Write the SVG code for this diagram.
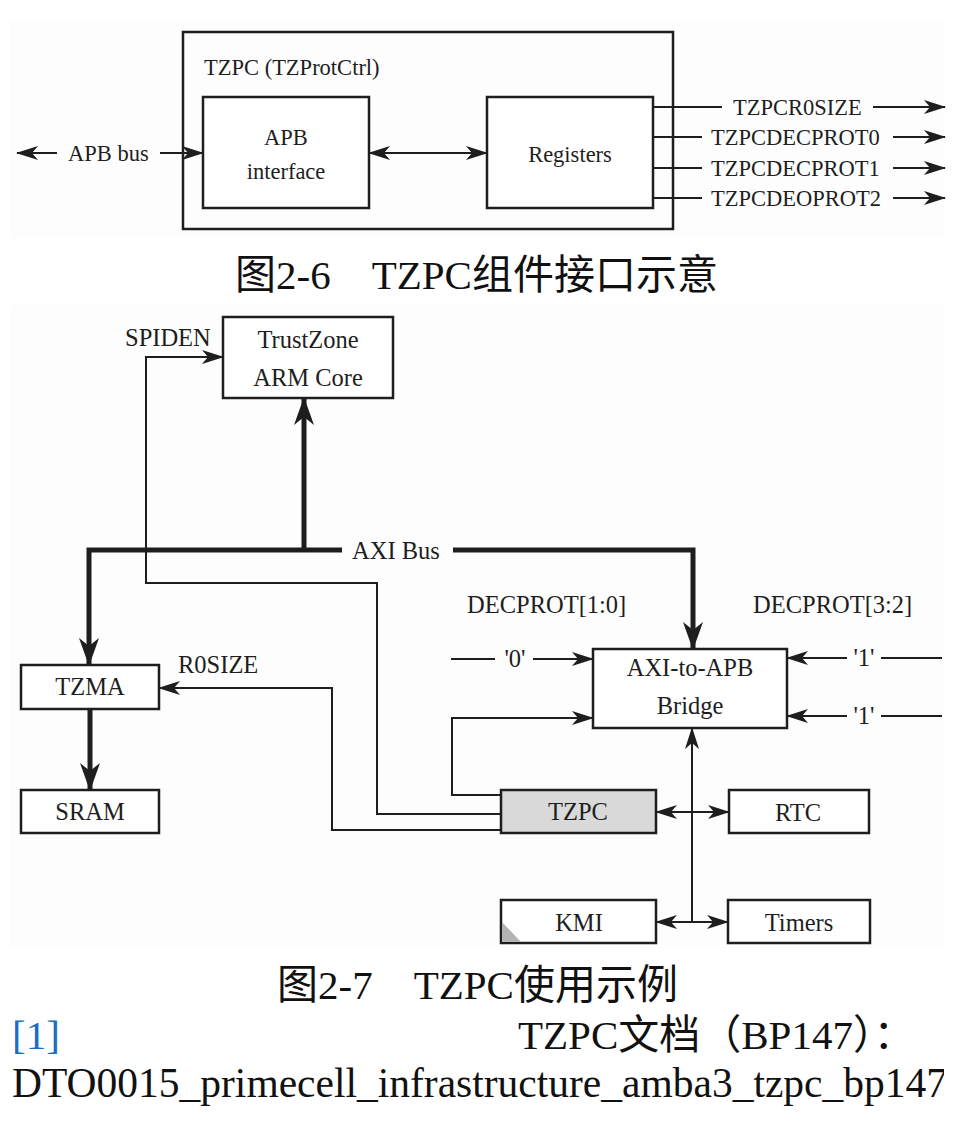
<svg xmlns="http://www.w3.org/2000/svg" width="974" height="1123" viewBox="0 0 974 1123">
<style>
.t{font-family:"Liberation Serif","Times New Roman",serif;fill:#1e1e1e}
.a{font-size:22.5px}
.b{font-size:24.5px}
.m{text-anchor:middle}
.cap{font-family:"Liberation Serif","Noto Sans CJK SC",serif;font-size:41px;fill:#111}
.box{fill:#fff;stroke:#1e1e1e;stroke-width:2.5}
.ln{fill:none;stroke:#1e1e1e;stroke-width:2}
.thk{fill:none;stroke:#1e1e1e;stroke-width:5}
.ar{marker-end:url(#ah)}
.ar2{marker-start:url(#ah);marker-end:url(#ah)}
.tk{marker-end:url(#th)}
</style>
<defs>
<marker id="ah" markerUnits="userSpaceOnUse" markerWidth="22" markerHeight="14" viewBox="0 0 22 14" refX="21" refY="7" orient="auto-start-reverse">
<path d="M22,7 L0,0 L6,7 L0,14 Z" fill="#1e1e1e"/>
</marker>
<marker id="th" markerUnits="userSpaceOnUse" markerWidth="28" markerHeight="20" viewBox="0 0 28 20" refX="27" refY="10" orient="auto">
<path d="M28,10 L0,0 L8,10 L0,20 Z" fill="#1e1e1e"/>
</marker>
<clipPath id="clipR"><rect x="0" y="0" width="944" height="1123"/></clipPath>
</defs>
<rect width="974" height="1123" fill="#fff"/>
<rect x="10" y="20" width="934" height="218" fill="#fdfdfd"/>
<rect x="10" y="305" width="934" height="643" fill="#fdfdfd"/>

<!-- Figure 2-6 -->
<g id="tzpc-outer">
<rect class="box" x="183" y="32" width="490" height="197" style="fill:none"/>
<text class="t a" x="204" y="75">TZPC (TZProtCtrl)</text>
</g>
<g id="apb-interface">
<rect class="box" x="203" y="97" width="166" height="111"/>
<text class="t a m" x="286" y="145">APB</text>
<text class="t a m" x="286" y="179">interface</text>
</g>
<g id="registers">
<rect class="box" x="487" y="97" width="166" height="111"/>
<text class="t a m" x="570" y="162">Registers</text>
</g>
<g id="top-connectors">
<line class="ln ar" x1="57" y1="153" x2="17" y2="153"/>
<text class="t a" x="68" y="161">APB bus</text>
<line class="ln ar" x1="160" y1="153" x2="203" y2="153"/>
<line class="ln ar2" x1="369" y1="153" x2="487" y2="153"/>
<line class="ln" x1="653" y1="107" x2="722" y2="107"/>
<text class="t a" x="733" y="115">TZPCR0SIZE</text>
<line class="ln ar" x1="873" y1="107" x2="945" y2="107"/>
<line class="ln" x1="653" y1="137" x2="702" y2="137"/>
<text class="t a" x="711" y="145">TZPCDECPROT0</text>
<line class="ln ar" x1="893" y1="137" x2="945" y2="137"/>
<line class="ln" x1="653" y1="168" x2="702" y2="168"/>
<text class="t a" x="711" y="176">TZPCDECPROT1</text>
<line class="ln ar" x1="893" y1="168" x2="945" y2="168"/>
<line class="ln" x1="653" y1="198" x2="702" y2="198"/>
<text class="t a" x="711" y="206">TZPCDEOPROT2</text>
<line class="ln ar" x1="893" y1="198" x2="945" y2="198"/>
</g>
<text class="cap" x="235" y="289">图2-6　TZPC组件接口示意</text>

<!-- Figure 2-7 -->
<g id="connectors">
<path class="thk tk" d="M342,550 H89 V665"/>
<path class="thk tk" d="M453,550 H693 V649"/>
<path class="thk tk" d="M304,550 V398"/>
<path class="thk tk" d="M90,709 V790"/>
<path class="ln ar" d="M502,814 H377 V583 H146 V357 H223"/>
<path class="ln ar" d="M502,830 H332 V688 H159"/>
<path class="ln ar" d="M502,795 H452 V718 H593"/>
<line class="ln" x1="451" y1="659" x2="495" y2="659"/>
<line class="ln ar" x1="533" y1="659" x2="593" y2="659"/>
<line class="ln" x1="942" y1="658" x2="881" y2="658"/>
<line class="ln ar" x1="847" y1="658" x2="787" y2="658"/>
<line class="ln" x1="942" y1="716" x2="881" y2="716"/>
<line class="ln ar" x1="847" y1="716" x2="787" y2="716"/>
<path class="ln ar" d="M692,922 V728"/>
<line class="ln ar2" x1="656" y1="812" x2="729" y2="812"/>
<line class="ln ar2" x1="656" y1="922" x2="728" y2="922"/>
<text class="t b" x="125" y="346">SPIDEN</text>
<text class="t b" x="352" y="559">AXI Bus</text>
<text class="t b" x="467" y="613">DECPROT[1:0]</text>
<text class="t b" x="753" y="613">DECPROT[3:2]</text>
<text class="t b m" x="515" y="667">'0'</text>
<text class="t b m" x="864" y="666">'1'</text>
<text class="t b m" x="864" y="724">'1'</text>
<text class="t b" x="178" y="673">R0SIZE</text>
</g>
<g id="trustzone">
<rect class="box" x="223" y="317" width="170" height="81"/>
<text class="t b m" x="308" y="348">TrustZone</text>
<text class="t b m" x="308" y="386">ARM Core</text>
</g>
<g id="bridge">
<rect class="box" x="593" y="649" width="194" height="79"/>
<text class="t b m" x="690" y="676">AXI-to-APB</text>
<text class="t b m" x="690" y="714">Bridge</text>
</g>
<g id="tzma">
<rect class="box" x="21" y="665" width="138" height="44"/>
<text class="t b m" x="90" y="695">TZMA</text>
</g>
<g id="sram">
<rect class="box" x="21" y="790" width="138" height="43"/>
<text class="t b m" x="90" y="820">SRAM</text>
</g>
<g id="tzpc">
<rect class="box" x="501" y="790" width="155" height="43" style="fill:#d9d9d9"/>
<text class="t b m" x="578" y="820">TZPC</text>
</g>
<g id="rtc">
<rect class="box" x="729" y="790" width="140" height="43"/>
<text class="t b m" x="798" y="821">RTC</text>
</g>
<g id="kmi">
<rect class="box" x="501" y="900" width="155" height="43"/>
<polygon points="502,922 502,942 521,942" fill="#b3b3b3"/>
<text class="t b m" x="579" y="931">KMI</text>
</g>
<g id="timers">
<rect class="box" x="728" y="900" width="142" height="43"/>
<text class="t b m" x="799" y="931">Timers</text>
</g>
<text class="cap" x="277" y="999">图2-7　TZPC使用示例</text>

<!-- footnote -->
<g clip-path="url(#clipR)">
<text class="cap" x="12" y="1049" style="fill:#1a6fc0">[1]</text>
<text class="cap" x="518" y="1049">TZPC文档（BP147）：</text>
<text class="cap" x="12" y="1097" style="font-size:41.5px">DTO0015_primecell_infrastructure_amba3_tzpc_bp147</text>
</g>
</svg>
